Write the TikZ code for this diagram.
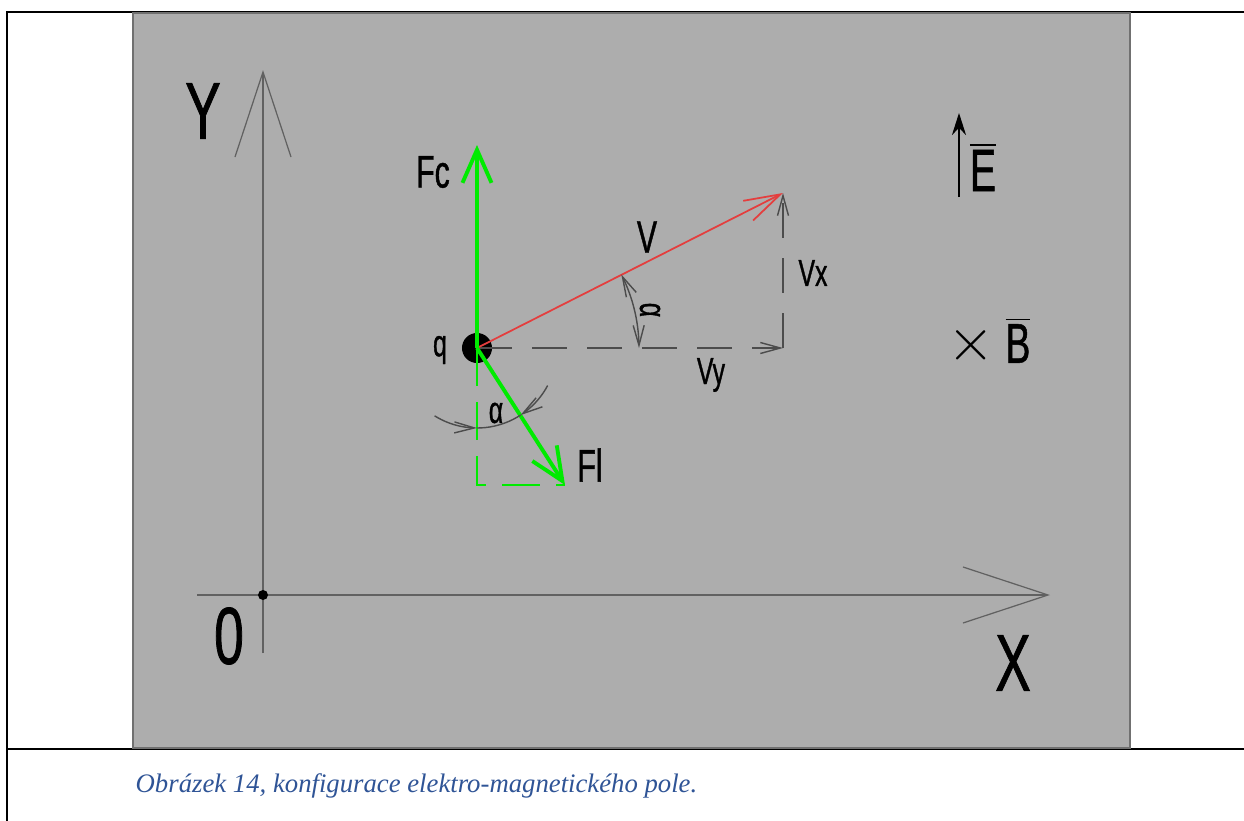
\documentclass[tikz,border=0pt]{standalone}
\usepackage{fontspec}
\setmainfont{Liberation Serif}
\newfontfamily\isofont[FakeStretch=0.66,FakeBold=0.9]{Liberation Sans}
\usetikzlibrary{arrows.meta}
\definecolor{panelgray}{RGB}{173,173,173}
\definecolor{paneledge}{RGB}{112,112,112}
\definecolor{captionblue}{RGB}{47,84,150}
\definecolor{fgreen}{RGB}{0,235,0}
\definecolor{vred}{RGB}{228,62,62}
\tikzset{
	lbl/.style={inner sep=0pt,text=black},
	axislbl/.style={font=\isofont\fontsize{23}{24}\selectfont},
	veclbl/.style={font=\isofont\fontsize{13}{14}\selectfont},
	complbl/.style={font=\isofont\fontsize{10.7}{12}\selectfont},
	axis/.style={draw=black!62,line width=0.55pt,-{Straight Barb[length=0.85cm,width=0.56cm,line width=0.35pt]}},
	force/.style={draw=fgreen,line width=1.1pt,-{Straight Barb[length=0.33cm,width=0.29cm]}},
	comp/.style={draw=black!70,line width=0.4pt,dash pattern=on 0.35cm off 0.2cm,>={Straight Barb[length=0.2cm,width=0.11cm]}},
	dim/.style={draw=black!70,line width=0.4pt,>={Straight Barb[length=0.2cm,width=0.11cm]}},
	guide/.style={draw=fgreen,line width=0.35pt,dash pattern=on 0.38cm off 0.16cm},
}
\begin{document}
\begin{tikzpicture}[x=0.01cm,y=-0.01cm]
	\useasboundingbox (0,0) rectangle (1244,821);
	% cadre et fond
	\draw[line width=0.8pt] (7,821) -- (7,12) -- (1244,12);
	\draw[line width=0.8pt] (7,749) -- (1244,749);
	\draw[fill=panelgray,draw=paneledge,line width=0.7pt] (133,13) rectangle (1130,748);
	
	% axes
	\coordinate (O) at (263,595);
	\coordinate (ybot) at (263,653);
	\coordinate (ytip) at (263,70);
	\coordinate (xleft) at (197,595);
	\coordinate (xtip) at (1050,595);
	\draw[axis] (ybot) -- (ytip);
	\draw[axis] (xleft) -- (xtip);
	\fill (O) circle (0.05cm);
	\node[lbl,axislbl] (ylab) at (203,111) {Y};
	\node[lbl,axislbl] (xlab) at (1013,663) {X};
	\node[lbl,axislbl] (olab) at (229,636) {0};
	
	% charge et vecteurs
	\coordinate (q) at (477,348);
	\coordinate (fc) at (477,145);
	\coordinate (v) at (783,193);
	\coordinate (vfoot) at (783,348);
	\coordinate (fl) at (565,485);
	\coordinate (flfoot) at (477,485);
	\fill (q) circle (0.15cm);
	\draw[guide] (q) -- (flfoot) -- (fl);
	\draw[comp,->] (q) -- (vfoot);
	\draw[comp,->] (vfoot) -- (v);
	\draw[vred,line width=0.5pt,-{Straight Barb[length=0.36cm,width=0.22cm]}] (q) -- (v);
	\draw[force] (q) -- (fc);
	\draw[force] (q) -- (fl);
	
	\begin{scope}[shift={(q)}]
		\draw[dim,<->] plot[domain=-27:0,samples=20] (\x:162);
		\draw[dim,->] plot[domain=122:90,samples=12] (\x:80);
		\draw[dim] plot[domain=90:57,samples=12] (\x:80);
		\draw[dim,->] plot[domain=28:57,samples=12] (\x:80);
	\end{scope}
	
	\node[lbl,complbl] (qlab) at (440,350) {q};
	\node[lbl,veclbl] (fclab) at (433,172) {Fc};
	\node[lbl,veclbl] (flab) at (590,465) {Fl};
	\node[lbl,veclbl] (vlab) at (647,237) {V};
	\node[lbl,complbl] (vxlab) at (813,273) {Vx};
	\node[lbl,complbl] (vylab) at (711,375) {Vy};
	\node[lbl,complbl,rotate=-90] (alab) at (650,310) {α};
	\node[lbl,complbl] (alab2) at (496,413) {α};
	
	% champs
	\coordinate (ebot) at (959,197);
	\coordinate (etop) at (959,113);
	\draw[line width=0.7pt,-{Stealth[length=0.22cm,width=0.14cm]}] (ebot) -- (etop);
	\node[lbl,font=\isofont\fontsize{17}{18}\selectfont] (elab) at (983,167) {$\overline{\hbox{\isofont E}}$};
	\node[lbl,font=\fontsize{16}{18}\selectfont] (xsym) at (971,345) {$\times$};
	\node[lbl,font=\isofont\fontsize{16}{18}\selectfont] (blab) at (1018,340) {$\overline{\hbox{\isofont B}}$};
	
	\node[anchor=base west,inner sep=0pt,font=\itshape\fontsize{7.6}{9}\selectfont,text=captionblue] (cap) at (135,792) {Obrázek 14, konfigurace elektro-magnetického pole.};
\end{tikzpicture}
\end{document}
